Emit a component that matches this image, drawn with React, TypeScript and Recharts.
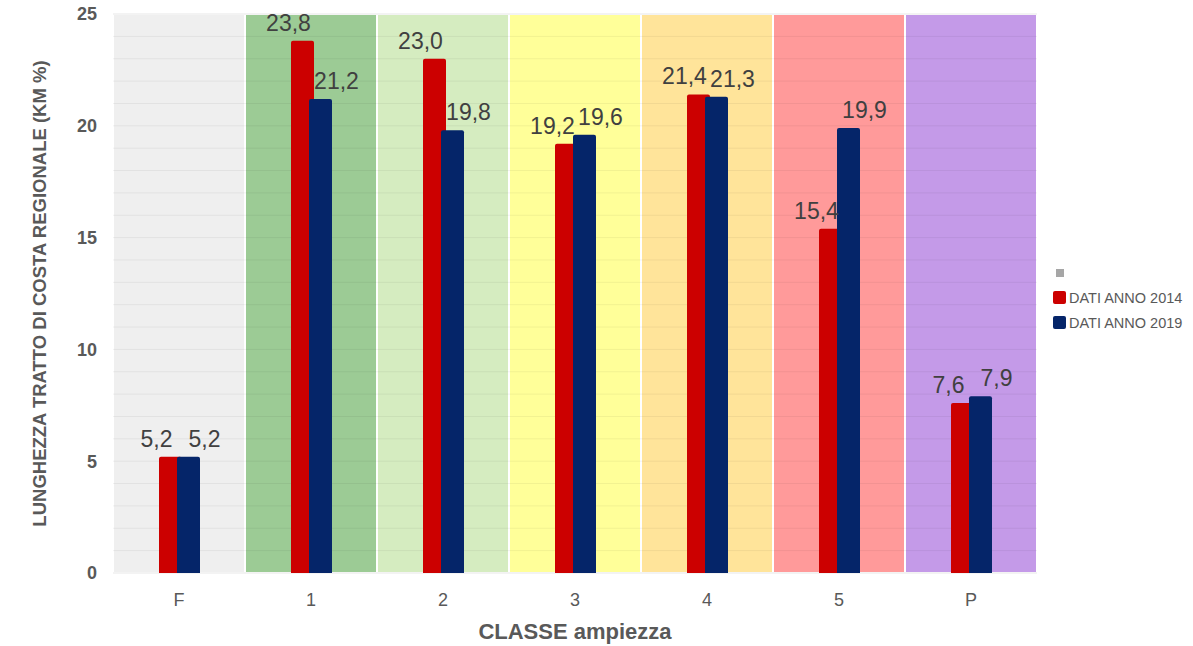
import React from 'react';
import { BarChart, Bar, XAxis, YAxis, CartesianGrid, ReferenceArea, LabelList, Legend } from 'recharts';

const classi = ['F', '1', '2', '3', '4', '5', 'P'];
const dati2014 = [5.2, 23.8, 23.0, 19.2, 21.4, 15.4, 7.6];
const dati2019 = [5.2, 21.2, 19.8, 19.6, 21.3, 19.9, 7.9];
const yTicks = [0, 5, 10, 15, 20, 25];
const minorTicks = [0, 1, 2, 3, 4, 5, 6, 7, 8, 9, 10, 11, 12, 13, 14, 15, 16, 17, 18, 19, 20, 21, 22, 23, 24, 25];

const bandColors = ['#efefef', '#9ccb95', '#d5ecc0', '#ffff99', '#ffe49a', '#ff9a9a', '#c49ae8'];

const data = classi.map((c, i) => ({ classe: c, a2014: dati2014[i], a2019: dati2019[i] }));

const fmt = (v: any) => Number(v).toFixed(1).replace('.', ',');
const yFmt = (v: number) => (yTicks.includes(v) ? String(v) : '');

const FONT = "'Liberation Sans', Arial, sans-serif";

const LegendBox = () => {
  const row: React.CSSProperties = { display: 'flex', alignItems: 'center', height: 25 };
  const txt: React.CSSProperties = { marginLeft: 3, fontSize: 14.5, color: '#595959', fontFamily: FONT };
  return (
    <div style={{ width: 140 }}>
      <div style={row}>
        <div style={{ width: 13, display: 'flex', justifyContent: 'center' }}>
          <div style={{ width: 8, height: 8, background: '#a6a6a6' }} />
        </div>
      </div>
      <div style={row}>
        <div style={{ width: 13, height: 13, background: '#cc0000', borderRadius: 2 }} />
        <span style={txt}>DATI ANNO 2014</span>
      </div>
      <div style={row}>
        <div style={{ width: 13, height: 13, background: '#052569', borderRadius: 2 }} />
        <span style={txt}>DATI ANNO 2019</span>
      </div>
    </div>
  );
};

export default function App() {
  return (
    <div style={{ position: 'absolute', left: 0, top: 0, fontFamily: FONT }}>
      <BarChart
        width={1193}
        height={646}
        data={data}
        margin={{ top: 14, right: 156, bottom: 43, left: 33 }}
        barSize={23}
        barGap={-5}
      >
        {classi.map((c, i) => (
          <ReferenceArea
            key={c}
            x1={c}
            x2={c}
            fill={bandColors[i]}
            fillOpacity={1}
            stroke="#ffffff"
            strokeWidth={2}
            ifOverflow="visible"
          />
        ))}
        <CartesianGrid vertical={false} stroke="rgba(0,0,0,0.055)" zIndex={150} />
        <CartesianGrid yAxisId="major" vertical={false} stroke="rgba(0,0,0,0.04)" zIndex={150} />
        <XAxis
          dataKey="classe"
          axisLine={false}
          tickLine={false}
          height={30}
          tickMargin={14}
          tick={{ fontSize: 18, fill: '#595959', fontFamily: FONT }}
          label={{
            value: 'CLASSE ampiezza',
            position: 'bottom',
            offset: 20,
            style: { fontSize: 22, fontWeight: 'bold', fill: '#595959', fontFamily: FONT },
          }}
        />
        <YAxis
          domain={[0, 25]}
          ticks={minorTicks}
          interval={0}
          tickFormatter={yFmt}
          axisLine={false}
          tickLine={false}
          width={80}
          tickMargin={10}
          tick={{ fontSize: 18, fontWeight: 'bold', fill: '#595959', fontFamily: FONT }}
          label={{
            value: 'LUNGHEZZA TRATTO DI COSTA REGIONALE (KM %)',
            angle: -90,
            position: 'insideLeft',
            offset: 6,
            style: { textAnchor: 'middle', fontSize: 18.5, fontWeight: 'bold', fill: '#595959', fontFamily: FONT },
          }}
        />
        <YAxis yAxisId="major" hide domain={[0, 25]} ticks={yTicks} />
        <Legend
          layout="vertical"
          align="center"
          verticalAlign="middle"
          wrapperStyle={{ left: 1053, top: 260, width: 140 }}
          content={() => <LegendBox />}
        />
        <Bar dataKey="a2014" name="DATI ANNO 2014" fill="#cc0000" radius={[2, 2, 0, 0]} isAnimationActive={false}>
          <LabelList dataKey="a2014" position="top" offset={10} dx={-14} formatter={fmt} fill="#404040" fontSize={23} fontFamily={FONT} />
        </Bar>
        <Bar dataKey="a2019" name="DATI ANNO 2019" fill="#052569" radius={[2, 2, 0, 0]} isAnimationActive={false}>
          <LabelList dataKey="a2019" position="top" offset={10} dx={16} formatter={fmt} fill="#404040" fontSize={23} fontFamily={FONT} />
        </Bar>
      </BarChart>
    </div>
  );
}
